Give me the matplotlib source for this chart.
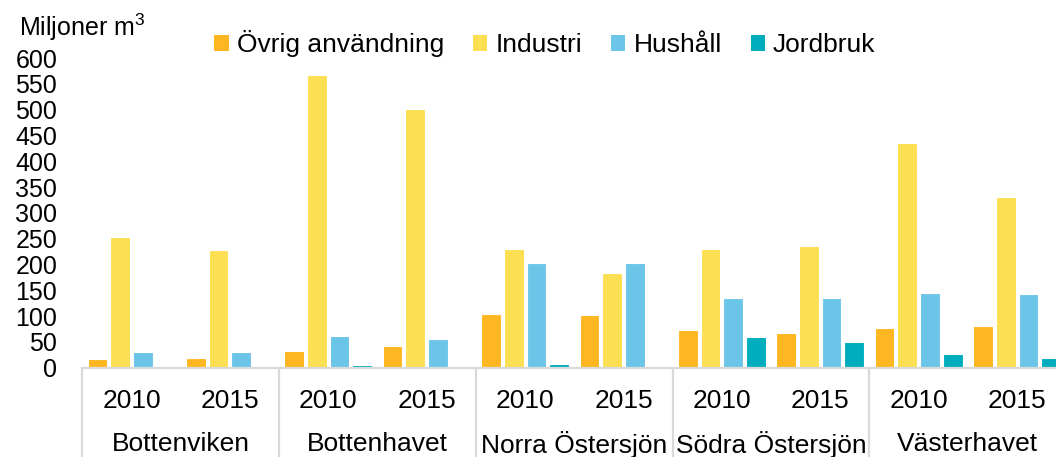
import numpy as np
import matplotlib.pyplot as plt
from matplotlib.patches import Patch
from matplotlib.transforms import blended_transform_factory

plt.rcParams['font.family'] = ['Liberation Sans', 'DejaVu Sans']

regions = ["Bottenviken", "Bottenhavet", "Norra Östersjön", "Södra Östersjön", "Västerhavet"]
years = ["2010", "2015"]
series = ["Övrig användning", "Industri", "Hushåll", "Jordbruk"]
colors = ["#FEB720", "#FCDF52", "#6CC5E9", "#00ADBD"]

# Miljoner m3, order: region 2010, region 2015, ...
ovrig    = [16, 19, 32, 42, 104, 103, 73, 68, 77, 80]
industri = [253, 229, 567, 501, 230, 183, 230, 236, 435, 330]
hushall  = [30, 30, 62, 55, 202, 202, 136, 135, 144, 142]
jordbruk = [0, 0, 5, 3, 8, 3, 59, 49, 27, 18]
values = [ovrig, industri, hushall, jordbruk]

fig = plt.figure(figsize=(10.56, 4.57), dpi=100)
ax = fig.add_axes([0.0779, 0.1954, 0.9318, 0.6775])

slots = np.arange(len(ovrig)) + 0.5
step = 0.2307
for k, (vals, col) in enumerate(zip(values, colors)):
    ax.bar(slots + (k - 1.5) * step, vals, width=0.2, color=col,
           edgecolor="white", linewidth=0.8, label=series[k])

ax.set_xlim(0, len(ovrig))
ax.set_ylim(0, 600)
ax.set_yticks(np.arange(0, 601, 50))
ax.tick_params(axis="y", length=0, labelsize=18, pad=18)
ax.tick_params(axis="x", length=0, labelsize=19, pad=15)
ax.set_xticks(slots)
ax.set_xticklabels(years * len(regions))

for s in ["top", "right", "left"]:
    ax.spines[s].set_visible(False)
ax.spines["bottom"].set_color("#d9d9d9")
ax.spines["bottom"].set_linewidth(1.6)

# group separators and region names under the year labels
trans = blended_transform_factory(ax.transData, ax.transAxes)
for i in range(len(regions) + 1):
    ax.plot([2 * i, 2 * i], [0, -0.3], transform=trans, color="#d9d9d9",
            lw=1.6, clip_on=False)
for i, name in enumerate(regions):
    ax.text(2 * i + 1, -0.248, name, transform=trans, ha="center",
            va="center", fontsize=19)

fig.text(0.018, 0.94, "Miljoner m$^{\\mathregular{3}}$", fontsize=18,
         ha="left", va="center")

handles = [Patch(facecolor=c, edgecolor="none") for c in colors]
fig.legend(handles, series, loc="center", bbox_to_anchor=(0.516, 0.904),
           ncol=4, frameon=False, fontsize=19, handlelength=0.55,
           handleheight=0.55, handletextpad=0.3, columnspacing=1.1)

fig.savefig("out.png", dpi=100)
